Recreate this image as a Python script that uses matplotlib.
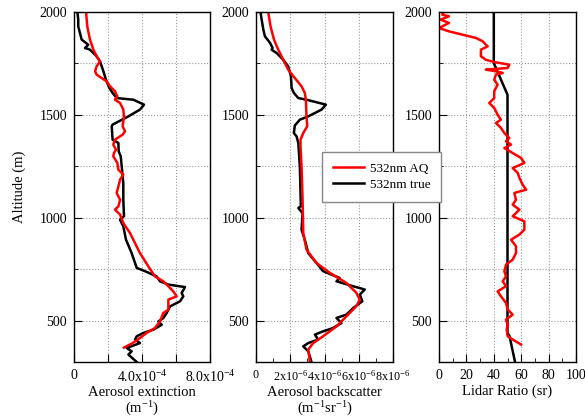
import matplotlib
matplotlib.use('Agg')
import matplotlib.pyplot as plt
import numpy as np

plt.rcParams['font.family'] = ['Liberation Serif', 'DejaVu Serif']
plt.rcParams['mathtext.fontset'] = 'custom'
plt.rcParams['mathtext.rm'] = 'Liberation Serif'
plt.rcParams['mathtext.it'] = 'Liberation Serif:italic'
plt.rcParams['font.size'] = 10

# --- extinction (units of 1e-4 m^-1) ---
ext_true_alt = [2000, 1963, 1930, 1898, 1866, 1841, 1825, 1817, 1785, 1760, 1736, 1712, 1671,
                1631, 1607, 1582, 1574, 1550, 1526, 1493, 1453, 1445, 1380, 1364, 1323, 1299,
                1169, 1088, 1008, 991, 959, 894, 829, 781, 757, 741, 716, 692, 676, 664, 635,
                619, 595, 570, 538, 513, 497, 481, 457, 441, 425, 409, 392, 368, 352, 336, 300]
ext_true = [0.20, 0.25, 0.25, 0.35, 0.45, 0.84, 0.65, 0.94, 1.33, 1.53, 1.63, 1.73, 1.88,
            2.08, 2.27, 2.51, 3.49, 4.12, 3.88, 3.20, 2.27, 2.22, 2.27, 2.61, 2.63, 2.75,
            2.90, 2.90, 2.94, 2.71, 2.90, 3.06, 3.39, 3.59, 3.69, 4.18, 4.86, 5.06, 5.55, 6.53, 6.33,
            6.43, 6.24, 5.65, 5.45, 5.25, 4.96, 5.16, 4.67, 4.08, 3.69, 3.59, 3.88, 3.10, 3.39, 3.20, 3.69]
ext_aq_alt = [2000, 1930, 1866, 1817, 1785, 1760, 1736, 1712, 1696, 1679, 1663, 1639, 1615,
              1590, 1574, 1558, 1526, 1493, 1445, 1420, 1404, 1380, 1356, 1331, 1315, 1299,
              1267, 1234, 1210, 1186, 1153, 1121, 1088, 1056, 1040, 1016, 975, 927, 829, 765,
              716, 692, 668, 643, 619, 603, 579, 554, 538, 497, 465, 441, 417, 392, 370]
ext_aq = [0.71, 0.78, 0.94, 1.14, 1.33, 1.53, 1.33, 1.24, 1.33, 1.63, 1.92, 2.12, 2.41,
          2.55, 2.41, 2.71, 2.90, 2.94, 2.86, 3.00, 2.86, 2.41, 2.31, 2.47, 2.35, 2.31,
          2.55, 2.61, 2.90, 2.71, 2.61, 2.51, 2.71, 2.61, 2.41, 2.71, 2.90, 3.29, 3.88, 4.37,
          4.76, 5.25, 5.55, 5.84, 6.04, 5.55, 5.55, 5.55, 5.25, 5.06, 4.76, 4.27, 3.88, 3.45, 2.94]

# --- backscatter (units of 1e-6 m^-1 sr^-1) ---
bsc_true_alt = [1995, 1963, 1914, 1882, 1850, 1825, 1817, 1801, 1768, 1736, 1688, 1631, 1607,
                1582, 1574, 1550, 1526, 1493, 1477, 1449, 1412, 1396, 1364, 1250, 1056, 1048,
                1023, 942, 894, 829, 781, 741, 708, 692, 668, 652, 627, 595, 562, 530, 514,
                489, 465, 449, 433, 409, 392, 376, 352, 300]
bsc_true = [0.27, 0.33, 0.43, 0.52, 0.82, 0.97, 0.91, 1.20, 1.59, 1.88, 2.04, 2.08, 2.21,
            2.47, 2.95, 4.08, 3.83, 3.05, 2.56, 2.27, 2.21, 2.37, 2.47, 2.56, 2.62, 2.47,
            2.72, 2.66, 2.85, 3.05, 3.53, 3.92, 4.89, 4.70, 5.67, 6.35, 6.06, 6.21, 5.67, 5.28, 4.70,
            4.99, 4.50, 3.92, 3.44, 3.63, 3.05, 2.76, 3.05, 3.24]
bsc_aq_alt = [1995, 1930, 1866, 1817, 1768, 1720, 1679, 1639, 1607, 1574, 1493, 1445, 1412,
              1380, 1347, 1250, 1088, 927, 846, 781, 733, 684, 636, 603, 571, 522, 473, 425,
              392, 360, 327, 300]
bsc_aq = [0.72, 0.85, 1.05, 1.30, 1.59, 1.88, 2.27, 2.66, 2.85, 2.91, 2.95, 2.99, 2.76,
          2.60, 2.60, 2.66, 2.72, 2.76, 2.95, 3.53, 4.31, 5.28, 5.86, 6.06, 5.86, 5.28, 4.70, 3.92,
          3.34, 3.05, 3.11, 3.14]

# --- lidar ratio (sr) ---
lr_true_alt = [2000, 1752, 1598, 441, 425, 300]
lr_true = [40, 40, 50, 50, 51.5, 55.5]
lr_aq_alt = [1995, 1987, 1979, 1963, 1947, 1922, 1906, 1890, 1874, 1858, 1833, 1817, 1785,
             1768, 1757, 1744, 1728, 1720, 1712, 1704, 1696, 1671, 1647, 1615, 1582, 1558,
             1534, 1501, 1477, 1461, 1437, 1412, 1388, 1372, 1356, 1339, 1315, 1291, 1267,
             1242, 1218, 1194, 1161, 1137, 1121, 1088, 1064, 1040, 1008, 983, 943, 919, 894,
             862, 829, 797, 773, 741, 716, 692, 668, 643, 619, 587, 555, 530, 506, 482, 457,
             425, 409, 385]
lr_aq = [3.0, 2.4, 7.3, 1.2, 7.3, 0.0, 7.3, 17.1, 26.9, 31.8, 35.5, 30.6, 30.6,
         34.2, 40.3, 51.3, 50.1, 34.2, 41.6, 46.5, 41.6, 40.3, 42.8, 40.3, 40.3, 36.7,
         40.3, 42.8, 45.2, 41.6, 45.2, 47.7, 51.3, 48.9, 52.6, 47.7, 53.8, 59.9, 62.3,
         53.8, 57.5, 58.7, 61.1, 63.6, 55.0, 56.2, 53.8, 58.7, 53.8, 62.3, 62.3, 58.7, 52.6,
         56.2, 56.2, 53.8, 48.9, 47.7, 48.9, 46.5, 48.9, 42.8, 45.2, 48.9, 50.1, 53.8, 48.9,
         50.1, 49.4, 50.1, 53.8, 59.9]

fig = plt.figure(figsize=(5.85, 4.18), dpi=100)
ax1 = fig.add_axes([74/585, 56/418, 136/585, 350/418])
ax2 = fig.add_axes([256/585, 56/418, 137/585, 350/418])
ax3 = fig.add_axes([439/585, 56/418, 137/585, 350/418])

lw = 1.8
ax1.plot(np.array(ext_true) * 1e-4, ext_true_alt, color='black', lw=lw)
ax1.plot(np.array(ext_aq) * 1e-4, ext_aq_alt, color='red', lw=lw)
ax2.plot(np.array(bsc_true) * 1e-6, bsc_true_alt, color='black', lw=lw, label='532nm true')
ax2.plot(np.array(bsc_aq) * 1e-6, bsc_aq_alt, color='red', lw=lw, label='532nm AQ')
ax3.plot(lr_true, lr_true_alt, color='black', lw=lw)
ax3.plot(lr_aq, lr_aq_alt, color='red', lw=lw)

for ax in (ax1, ax2, ax3):
    ax.set_ylim(300, 2000)
    ax.set_yticks([500, 1000, 1500, 2000])
    ax.set_yticks([750, 1250, 1750], minor=True)
    ax.tick_params(which='both', direction='in', labelsize=10, pad=5)
    ax.tick_params(which='major', length=6)
    ax.tick_params(which='minor', length=3)
    ax.grid(True, which='both', linestyle=':', color='#999999', linewidth=0.8)
    for s in ax.spines.values():
        s.set_linewidth(1.0)

ax1.set_xlim(0, 8e-4)
ax1.set_xticks([0, 2e-4, 4e-4, 6e-4, 8e-4])
ax1.set_xticklabels(['0', '', r'4.0x10$^{-4}$', '', r'8.0x10$^{-4}$'])
ax1.set_xlabel('Aerosol extinction\n(m$^{-1}$)', labelpad=1, fontsize=10.5, linespacing=1.05)
ax1.set_ylabel('Altitude (m)', labelpad=10, fontsize=10.5)

ax2.set_xlim(0, 8e-6)
ax2.set_xticks([0, 2e-6, 4e-6, 6e-6, 8e-6])
ax2.set_xticks([1e-6, 3e-6, 5e-6, 7e-6], minor=True)
ax2.grid(False, which='minor', axis='x')
ax2.set_xticklabels(['0', r'2x10$^{-6}$', r'4x10$^{-6}$', r'6x10$^{-6}$', r'8x10$^{-6}$'],
                    fontsize=8.7)
ax2.set_xlabel('Aerosol backscatter\n(m$^{-1}$sr$^{-1}$)', labelpad=2, fontsize=10.5,
               linespacing=1.05)

ax3.set_xlim(0, 100)
ax3.set_xticks([0, 20, 40, 60, 80, 100])
ax3.set_xticks([10, 30, 50, 70, 90], minor=True)
ax3.grid(False, which='minor', axis='x')
ax3.set_xlabel('Lidar Ratio (sr)', labelpad=2, fontsize=10.5)

h, l = ax2.get_legend_handles_labels()
fig.legend([h[1], h[0]], [l[1], l[0]], loc='upper left',
           bbox_to_anchor=(322/585, 1 - 152/418), borderaxespad=0, fontsize=9.5,
           fancybox=False, edgecolor='#888888', framealpha=1, handlelength=2.4,
           handletextpad=0.4, borderpad=0.8, labelspacing=0.3)

fig.savefig('out.png', dpi=100)
